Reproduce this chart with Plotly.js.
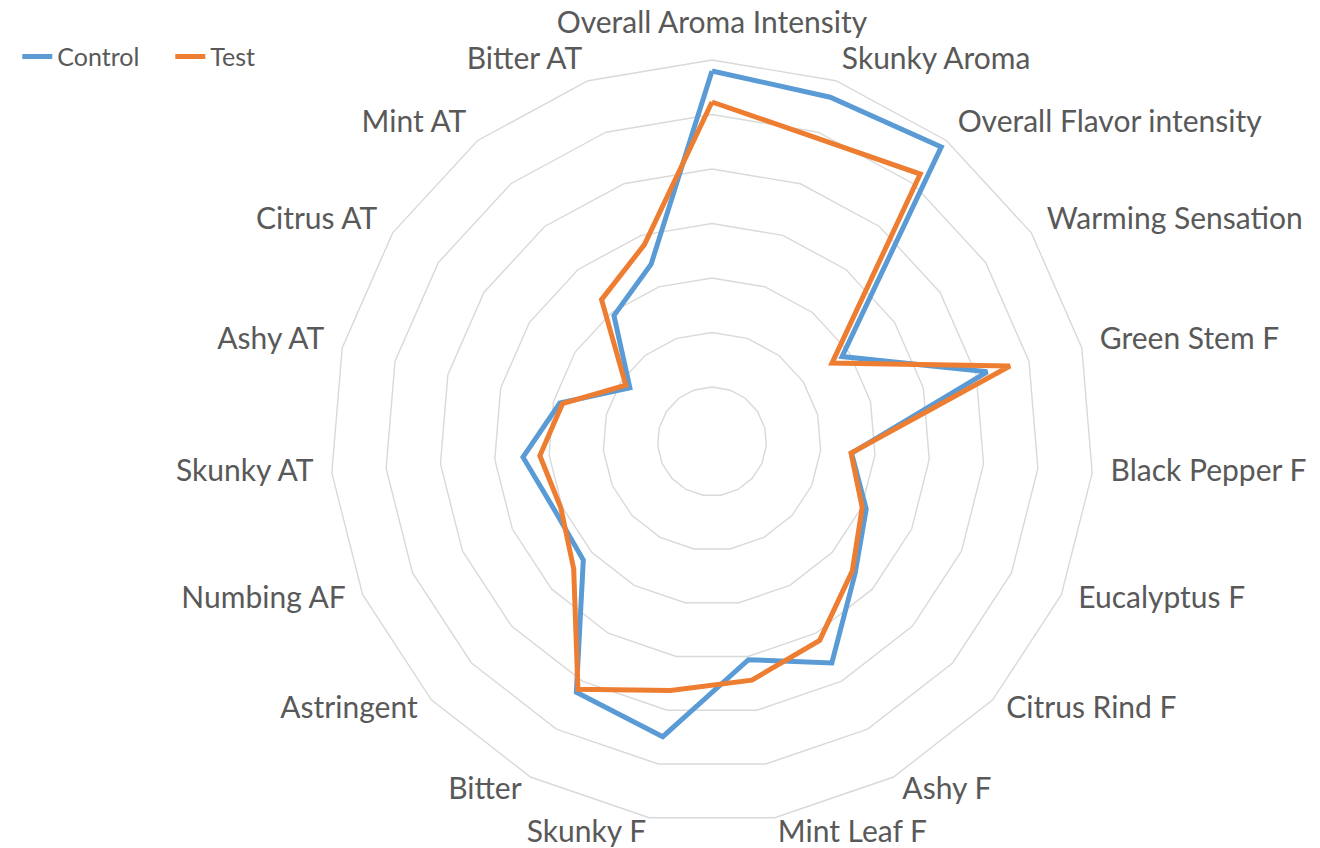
<!DOCTYPE html>
<html>
<head>
<meta charset="utf-8">
<script src="https://cdn.plot.ly/plotly-3.0.1.min.js"></script>
<style>html,body{margin:0;padding:0;background:#fff;}#chart{width:1320px;height:848px;}</style>
</head>
<body>
<div id="chart"></div>
<script>
const categories = [
  "Overall Aroma Intensity", "Skunky Aroma", "Overall Flavor intensity", "Warming Sensation",
  "Green Stem F", "Black Pepper F", "Eucalyptus F", "Citrus Rind F", "Ashy F", "Mint Leaf F",
  "Skunky F", "Bitter", "Astringent", "Numbing AF", "Skunky AT", "Ashy AT", "Citrus AT",
  "Mint AT", "Bitter AT"
];
const controlValues = [6.80, 6.68, 6.85, 2.85, 5.21, 2.57, 3.09, 3.57, 4.62, 4.06,
  5.49, 5.23, 3.21, 3.15, 3.48, 2.88, 1.80, 2.93, 3.44];
const testValues = [6.23, 5.89, 6.22, 2.63, 5.64, 2.56, 3.01, 3.50, 4.15, 4.44,
  4.63, 5.17, 3.45, 3.03, 3.17, 2.83, 1.89, 3.30, 3.82];
const seriesNames = ["Control", "Test"];
const radialMax = 7;

function closed(arr) { return arr.concat([arr[0]]); }

// label placement like Excel: outside the outer ring, aligned away from the centre
const n = categories.length;
const labelPositions = categories.map((c, i) => {
  const a = (90 - i * 360 / n) * Math.PI / 180;
  const cx = Math.cos(a);
  if (cx > 0.1) return "middle right";
  if (cx < -0.1) return "middle left";
  return Math.sin(a) > 0 ? "top center" : "bottom center";
});

const traces = [
  {
    type: "scatterpolar", mode: "lines", name: seriesNames[0],
    r: closed(controlValues), theta: closed(categories),
    line: {color: "#5B9BD5", width: 5, shape: "linear"}
  },
  {
    type: "scatterpolar", mode: "lines", name: seriesNames[1],
    r: closed(testValues), theta: closed(categories),
    line: {color: "#ED7D31", width: 5, shape: "linear"}
  },
  {
    type: "scatterpolar", subplot: "polar2", mode: "text", showlegend: false, hoverinfo: "skip",
    r: categories.map(() => 1), theta: categories,
    text: categories, textposition: labelPositions, cliponaxis: false,
    marker: {size: 1},
    textfont: {size: 30, color: "#595959", family: "Lato, sans-serif"}
  }
];

const layout = {
  width: 1320, height: 848,
  margin: {l: 0, r: 0, t: 0, b: 0},
  paper_bgcolor: "#ffffff",
  font: {family: "Lato, 'Open Sans', sans-serif", color: "#595959"},
  showlegend: true,
  legend: {
    orientation: "h", x: 0.0131, y: 0.933, xanchor: "left", yanchor: "middle",
    font: {size: 25, color: "#595959", family: "Lato, sans-serif"},
    bgcolor: "rgba(0,0,0,0)", entrywidth: 108, entrywidthmode: "pixels"
  },
  polar: {
    domain: {x: [0.2504, 0.8284], y: [0.0295, 0.9292]},
    gridshape: "linear",
    bgcolor: "#ffffff",
    radialaxis: {
      range: [0, radialMax], dtick: 1, showticklabels: false, ticks: "",
      showline: false, gridcolor: "#D9D9D9", gridwidth: 1.4
    },
    angularaxis: {
      rotation: 90, direction: "clockwise",
      categoryorder: "array", categoryarray: categories,
      showgrid: false, showticklabels: false, ticks: "",
      linecolor: "#D9D9D9", linewidth: 1.4
    }
  },
  polar2: {
    domain: {x: [0.23636, 0.84242], y: [0.00943, 0.95283]},
    bgcolor: "rgba(0,0,0,0)",
    radialaxis: {range: [0, 1], visible: false},
    angularaxis: {
      visible: false, rotation: 90, direction: "clockwise",
      categoryorder: "array", categoryarray: categories
    }
  }
};

Plotly.newPlot("chart", traces, layout, {staticPlot: true, displayModeBar: false});
</script>
</body>
</html>
